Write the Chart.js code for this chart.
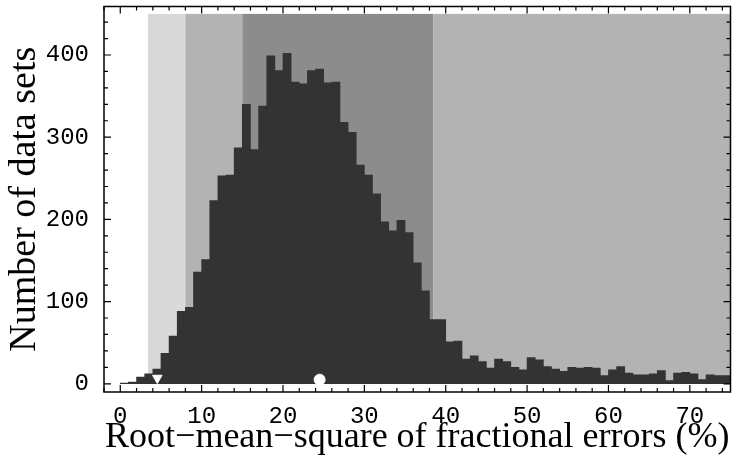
<!DOCTYPE html>
<html>
<head>
<meta charset="utf-8">
<script src="https://cdn.jsdelivr.net/npm/chart.js@4"></script>
<style>
  html, body { margin: 0; padding: 0; background: #fff; }
  #wrap { width: 737px; height: 456px; }
</style>
</head>
<body>
<div id="wrap"><canvas id="myChart" width="737" height="456"></canvas></div>
<script>
// histogram bins (left edge, %), 1% wide
const binLeft = [0,1,2,3,4,5,6,7,8,9,10,11,12,13,14,15,16,17,18,19,20,21,22,23,24,
  25,26,27,28,29,30,31,32,33,34,35,36,37,38,39,40,41,42,43,44,45,46,47,48,49,
  50,51,52,53,54,55,56,57,58,59,60,61,62,63,64,65,66,67,68,69,70,71,72,73,74];
const counts = [1,2,8,12,18,37,58,88,93,136,151,223,253,254,287,340,285,338,399,381,
  402,367,365,381,383,366,367,318,306,266,254,231,197,186,199,184,147,113,78,78,
  51,52,30,34,27,19,30,27,20,17,32,29,21,18,15,20,19,20,19,10,
  17,21,13,11,11,12,16,4,13,14,12,5,11,10,10];

// shaded ranges behind the histogram
const bandFrom = [3.4, 8, 15, 38.5];
const bandTo = [8, 15, 38.5, 75];
const bandColors = ["#d9d9d9", "#b3b3b3", "#8c8c8c", "#b3b3b3"];
const bandTop = 450;

// markers on the baseline
const triangleAt = [{ x: 4.55, y: 7 }];
const circleAt = [{ x: 24.5, y: 5 }];

const xLabelSteps = 10;
const yLabelSteps = 100;

const bandsPlugin = {
    id: "bands",
    beforeDatasetsDraw(chart) {
        const { ctx, chartArea, scales } = chart;
        ctx.save();
        ctx.beginPath();
        ctx.rect(chartArea.left, chartArea.top, chartArea.right - chartArea.left, chartArea.bottom - chartArea.top);
        ctx.clip();
        const y0 = scales.y.getPixelForValue(0);
        const y1 = scales.y.getPixelForValue(bandTop);
        bandFrom.forEach((f, i) => {
            const x0 = scales.x.getPixelForValue(f);
            const x1 = Math.min(scales.x.getPixelForValue(bandTo[i]), chartArea.right);
            ctx.fillStyle = bandColors[i];
            ctx.fillRect(x0, y1, x1 - x0, y0 - y1);
        });
        ctx.restore();
    }
};

// frame with inward ticks on all four sides
const framePlugin = {
    id: "frame",
    afterDraw(chart) {
        const { ctx, chartArea, scales } = chart;
        const { left, right, top, bottom } = chartArea;
        ctx.save();
        ctx.strokeStyle = "#000";
        ctx.lineWidth = 1.5;
        ctx.strokeRect(left, top, right - left, bottom - top);
        ctx.lineWidth = 1.2;
        ctx.beginPath();
        scales.x.ticks.forEach(t => {
            const px = scales.x.getPixelForValue(t.value);
            if (px < left || px > right) return;
            const len = t.value % xLabelSteps === 0 ? 7 : 4;
            ctx.moveTo(px, bottom); ctx.lineTo(px, bottom - len);
            ctx.moveTo(px, top); ctx.lineTo(px, top + len);
        });
        scales.y.ticks.forEach(t => {
            const py = scales.y.getPixelForValue(t.value);
            if (py < top || py > bottom) return;
            const len = t.value % yLabelSteps === 0 ? 7 : 4;
            ctx.moveTo(left, py); ctx.lineTo(left + len, py);
            ctx.moveTo(right, py); ctx.lineTo(right - len, py);
        });
        ctx.stroke();
        ctx.restore();
    }
};

document.addEventListener("DOMContentLoaded", function () {
    const ctx = document.getElementById("myChart").getContext("2d");

    new Chart(ctx, {
        type: "bar",
        data: {
            datasets: [
                {
                    type: "scatter",
                    data: triangleAt,
                    pointStyle: "triangle",
                    rotation: 180,
                    radius: 5.5,
                    backgroundColor: "#fff",
                    borderColor: "#fff",
                    borderWidth: 1,
                    order: 0
                },
                {
                    type: "scatter",
                    data: circleAt,
                    pointStyle: "circle",
                    radius: 5.5,
                    backgroundColor: "#fff",
                    borderColor: "#fff",
                    borderWidth: 1,
                    order: 0
                },
                {
                    type: "bar",
                    data: binLeft.map((b, i) => ({ x: b + 0.5, y: counts[i] })),
                    backgroundColor: "#333333",
                    borderWidth: 0,
                    barPercentage: 1.0,
                    categoryPercentage: 1.0,
                    order: 1
                }
            ]
        },
        options: {
            responsive: false,
            animation: false,
            layout: { padding: { top: 3, right: 1, left: 0, bottom: 0 } },
            plugins: {
                legend: { display: false },
                tooltip: { enabled: false }
            },
            scales: {
                x: {
                    type: "linear",
                    min: -2,
                    max: 75,
                    offset: false,
                    grid: { display: false },
                    border: { display: false },
                    ticks: {
                        stepSize: 2,
                        includeBounds: false,
                        autoSkip: false,
                        maxRotation: 0,
                        padding: 2,
                        color: "#000",
                        font: { family: "Liberation Mono", size: 24 },
                        callback: v => (v % xLabelSteps === 0 ? v : "")
                    },
                    title: {
                        display: true,
                        text: "Root\u2212mean\u2212square of fractional errors (%)",
                        color: "#000",
                        font: { family: "Liberation Serif", size: 36, lineHeight: 1 },
                        padding: { top: 1, bottom: 0 }
                    },
                    afterFit(scale) {
                        scale.height = 64;
                        scale.paddingLeft = 0;
                        scale.paddingRight = 0;
                    }
                },
                y: {
                    min: -10,
                    max: 459,
                    grid: { display: false },
                    border: { display: false },
                    ticks: {
                        stepSize: 20,
                        includeBounds: false,
                        autoSkip: false,
                        padding: 7,
                        color: "#000",
                        font: { family: "Liberation Mono", size: 24 },
                        callback: v => (v % yLabelSteps === 0 ? v : "")
                    },
                    title: {
                        display: true,
                        text: "Number of data sets",
                        color: "#000",
                        font: { family: "Liberation Serif", size: 38, lineHeight: 1 },
                        padding: { top: 6, bottom: 0 }
                    },
                    afterFit(scale) {
                        scale.width = 104;
                        scale.paddingTop = 0;
                        scale.paddingBottom = 0;
                    }
                }
            }
        },
        plugins: [bandsPlugin, framePlugin]
    });
});
</script>
</body>
</html>
